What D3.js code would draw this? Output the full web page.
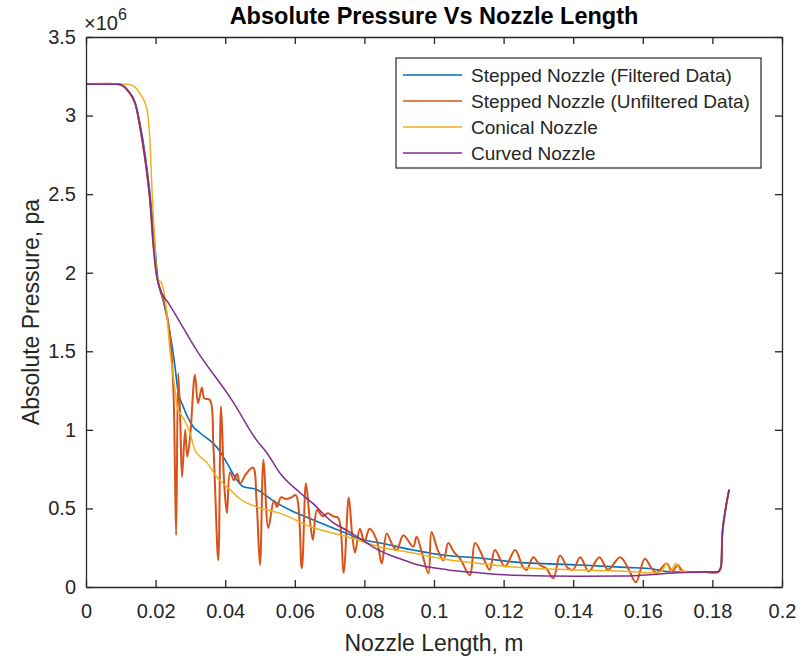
<!DOCTYPE html>
<html>
<head>
<meta charset="utf-8">
<script src="https://cdn.jsdelivr.net/npm/d3@7"></script>
<style>
  html, body { margin: 0; padding: 0; background: #fff; }
  svg { display: block; }
  text { font-family: "Liberation Sans", Arial, Helvetica, sans-serif; fill: #262626; }
</style>
</head>
<body>
<svg id="chart" width="801" height="662"></svg>
<script>
// ---------------- data (pressure in units of 1e6 Pa, length in m) ----------------
const xTicks = [0, 0.02, 0.04, 0.06, 0.08, 0.1, 0.12, 0.14, 0.16, 0.18, 0.2];
const xTickLabels = ["0", "0.02", "0.04", "0.06", "0.08", "0.1", "0.12", "0.14", "0.16", "0.18", "0.2"];
const yTicks = [0, 0.5, 1, 1.5, 2, 2.5, 3, 3.5];
const yTickLabels = ["0", "0.5", "1", "1.5", "2", "2.5", "3", "3.5"];

const seriesNames = ["Stepped Nozzle (Filtered Data)", "Stepped Nozzle (Unfiltered Data)", "Conical Nozzle", "Curved Nozzle"];
const seriesColors = ["#0072BD", "#D95319", "#EDB120", "#7E2F8E"];

const steppedFilteredX = [0, 0.009, 0.0105, 0.012, 0.0141, 0.0155, 0.017, 0.0184, 0.0195, 0.0207, 0.0221, 0.0241, 0.0256, 0.0264, 0.0279, 0.0308, 0.0328, 0.0376, 0.0405, 0.0434, 0.0451, 0.049, 0.0537, 0.0586, 0.065, 0.075, 0.0796, 0.0845, 0.094, 0.1037, 0.113, 0.1227, 0.142, 0.155, 0.163, 0.166, 0.170, 0.175, 0.1816, 0.1825, 0.1828, 0.1836, 0.1848];
const steppedFilteredY = [3.2, 3.2, 3.19, 3.16, 3.08, 2.95, 2.75, 2.5, 2.25, 1.95, 1.83, 1.62, 1.40, 1.25, 1.15, 1.02, 0.98, 0.89, 0.79, 0.68, 0.64, 0.62, 0.55, 0.49, 0.43, 0.34, 0.30, 0.28, 0.235, 0.20, 0.185, 0.16, 0.14, 0.125, 0.115, 0.10, 0.095, 0.095, 0.095, 0.13, 0.32, 0.47, 0.62];

const steppedUnfilteredX = [0, 0.009, 0.0105, 0.012, 0.0141, 0.0155, 0.017, 0.0184, 0.0193, 0.0204, 0.0215, 0.0224, 0.0235, 0.0245, 0.0252, 0.0259, 0.0265, 0.0271, 0.0276, 0.0285, 0.0291, 0.0299, 0.0313, 0.0322, 0.0333, 0.0340, 0.0356, 0.0366, 0.0380, 0.0388, 0.0397, 0.0405, 0.0414, 0.0425, 0.0434, 0.0443, 0.0460, 0.0480, 0.0490, 0.0500, 0.0510, 0.0524, 0.0540, 0.0549, 0.0560, 0.0575, 0.0590, 0.0603, 0.0620, 0.0632, 0.0643, 0.0652, 0.0664, 0.0680, 0.0695, 0.0710, 0.0725, 0.0740, 0.0755, 0.0765, 0.0773, 0.0787, 0.0800, 0.0815, 0.0835, 0.0850, 0.0864, 0.0880, 0.0893, 0.0912, 0.0940, 0.0950, 0.0965, 0.0984, 0.0993, 0.1010, 0.1027, 0.1041, 0.1058, 0.1075, 0.1103, 0.1118, 0.1145, 0.1160, 0.1175, 0.1204, 0.1233, 0.1255, 0.1266, 0.1285, 0.1304, 0.1322, 0.1343, 0.1362, 0.1385, 0.1400, 0.1420, 0.1445, 0.1475, 0.1500, 0.1535, 0.1560, 0.1580, 0.1606, 0.1625, 0.1640, 0.1668, 0.1685, 0.1700, 0.1715, 0.1740, 0.1780, 0.1816, 0.1825, 0.1828, 0.1836, 0.1848];
const steppedUnfilteredY = [3.2, 3.2, 3.19, 3.16, 3.08, 2.93, 2.72, 2.46, 2.19, 1.97, 1.88, 1.82, 1.70, 1.51, 1.20, 0.33, 1.36, 1.05, 0.70, 1.00, 0.83, 0.95, 1.35, 1.17, 1.27, 1.20, 1.19, 0.90, 0.17, 1.15, 0.66, 0.47, 0.73, 0.68, 0.72, 0.66, 0.72, 0.76, 0.55, 0.14, 0.81, 0.375, 0.55, 0.51, 0.57, 0.56, 0.57, 0.585, 0.12, 0.66, 0.43, 0.30, 0.49, 0.45, 0.47, 0.45, 0.44, 0.09, 0.57, 0.33, 0.22, 0.37, 0.29, 0.37, 0.30, 0.15, 0.34, 0.27, 0.235, 0.33, 0.256, 0.32, 0.22, 0.087, 0.35, 0.24, 0.17, 0.28, 0.22, 0.18, 0.075, 0.28, 0.17, 0.11, 0.235, 0.13, 0.235, 0.13, 0.108, 0.19, 0.14, 0.12, 0.055, 0.20, 0.12, 0.11, 0.19, 0.10, 0.19, 0.11, 0.19, 0.11, 0.03, 0.18, 0.12, 0.09, 0.15, 0.10, 0.14, 0.10, 0.095, 0.095, 0.095, 0.13, 0.32, 0.47, 0.62];

const conicalX = [0, 0.010, 0.0118, 0.0135, 0.0155, 0.0175, 0.0184, 0.019, 0.0198, 0.0204, 0.0218, 0.0233, 0.0241, 0.0253, 0.0264, 0.0279, 0.0299, 0.0313, 0.0348, 0.0376, 0.0414, 0.0443, 0.049, 0.0557, 0.065, 0.075, 0.0845, 0.094, 0.1037, 0.113, 0.1227, 0.142, 0.155, 0.163, 0.1655, 0.1668, 0.1680, 0.1695, 0.1710, 0.1727];
const conicalY = [3.2, 3.2, 3.2, 3.19, 3.14, 3.04, 2.83, 2.51, 2.19, 1.97, 1.93, 1.72, 1.51, 1.30, 1.13, 1.08, 0.98, 0.87, 0.79, 0.70, 0.62, 0.56, 0.51, 0.47, 0.38, 0.32, 0.255, 0.216, 0.175, 0.15, 0.127, 0.108, 0.10, 0.09, 0.10, 0.15, 0.10, 0.15, 0.10, 0.10];

const curvedX = [0, 0.0098, 0.012, 0.0141, 0.0155, 0.017, 0.0184, 0.0193, 0.0204, 0.0218, 0.0236, 0.032, 0.0422, 0.049, 0.052, 0.0557, 0.0615, 0.065, 0.071, 0.075, 0.0807, 0.0845, 0.0902, 0.094, 0.1037, 0.113, 0.1227, 0.142, 0.155, 0.163, 0.170, 0.178, 0.1816, 0.1825, 0.1828, 0.1836, 0.1848];
const curvedY = [3.2, 3.2, 3.16, 3.08, 2.93, 2.72, 2.46, 2.19, 1.97, 1.87, 1.81, 1.50, 1.18, 0.935, 0.853, 0.725, 0.60, 0.535, 0.41, 0.36, 0.28, 0.23, 0.18, 0.15, 0.11, 0.09, 0.075, 0.068, 0.07, 0.08, 0.09, 0.095, 0.095, 0.13, 0.32, 0.47, 0.62];

// ---------------- layout ----------------
const W = 801, H = 662;
const plot = { left: 86, right: 782, top: 37, bottom: 587 };
const ink = "#262626";

const svg = d3.select("#chart");
svg.append("rect").attr("width", W).attr("height", H).attr("fill", "#fff");

const x = d3.scaleLinear().domain([0, 0.2]).range([plot.left, plot.right]);
const y = d3.scaleLinear().domain([0, 3.5]).range([plot.bottom, plot.top]);

svg.append("defs").append("clipPath").attr("id", "clip")
  .append("rect").attr("x", plot.left).attr("y", plot.top)
  .attr("width", plot.right - plot.left).attr("height", plot.bottom - plot.top);

// ---------------- lines ----------------
const pairs = (xs, ys) => xs.map((v, i) => [v, ys[i]]);
const series = [
  { data: pairs(steppedFilteredX, steppedFilteredY), curve: d3.curveMonotoneX, w: 1.6 },
  { data: pairs(steppedUnfilteredX, steppedUnfilteredY), curve: d3.curveCatmullRom.alpha(0.5), w: 2.0 },
  { data: pairs(conicalX, conicalY), curve: d3.curveMonotoneX, w: 1.5 },
  { data: pairs(curvedX, curvedY), curve: d3.curveMonotoneX, w: 1.5 }
];
const gLines = svg.append("g").attr("clip-path", "url(#clip)");
series.forEach((s, i) => {
  const line = d3.line().x(d => x(d[0])).y(d => y(d[1])).curve(s.curve);
  gLines.append("path").datum(s.data)
    .attr("d", line)
    .attr("fill", "none")
    .attr("stroke", seriesColors[i])
    .attr("stroke-width", s.w)
    .attr("stroke-linejoin", "round");
});

// ---------------- axes ----------------
const tickFont = 20;
const styleAxis = g => {
  g.selectAll(".domain").attr("stroke", ink).attr("stroke-width", 1.3);
  g.selectAll(".tick line").attr("stroke", ink).attr("stroke-width", 1.3);
  g.selectAll(".tick text").attr("fill", ink).style("font-size", tickFont + "px")
    .style("font-family", '"Liberation Sans", Arial, sans-serif');
};

svg.append("g").attr("transform", `translate(0,${plot.bottom})`)
  .call(d3.axisBottom(x).tickValues(xTicks).tickFormat((d, i) => xTickLabels[i])
    .tickSizeInner(-7).tickSizeOuter(0).tickPadding(17))
  .call(styleAxis);

svg.append("g").attr("transform", `translate(0,${plot.top})`)
  .call(d3.axisTop(x).tickValues(xTicks).tickFormat("").tickSizeInner(-7).tickSizeOuter(0))
  .call(styleAxis);

svg.append("g").attr("transform", `translate(${plot.left},0)`)
  .call(d3.axisLeft(y).tickValues(yTicks).tickFormat((d, i) => yTickLabels[i])
    .tickSizeInner(-7).tickSizeOuter(0).tickPadding(10))
  .call(styleAxis);

svg.append("g").attr("transform", `translate(${plot.right},0)`)
  .call(d3.axisRight(y).tickValues(yTicks).tickFormat("").tickSizeInner(-7).tickSizeOuter(0))
  .call(styleAxis);

// exponent label
const expo = svg.append("text").attr("x", 84).attr("y", 30).style("font-size", "20px");
expo.append("tspan").text("\u00d710");
expo.append("tspan").attr("dy", -10).style("font-size", "16px").text("6");

// ---------------- titles ----------------
svg.append("text").attr("x", (plot.left + plot.right) / 2).attr("y", 24)
  .attr("text-anchor", "middle").style("font-size", "23.5px").style("font-weight", "bold")
  .style("fill", "#000")
  .text("Absolute Pressure Vs Nozzle Length");

svg.append("text").attr("x", (plot.left + plot.right) / 2).attr("y", 651)
  .attr("text-anchor", "middle").style("font-size", "23px")
  .text("Nozzle Length, m");

svg.append("text")
  .attr("transform", `translate(39,${(plot.top + plot.bottom) / 2}) rotate(-90)`)
  .attr("text-anchor", "middle").style("font-size", "23px")
  .text("Absolute Pressure, pa");

// ---------------- legend ----------------
const leg = { x: 396, y: 58, w: 365, h: 110 };
const gLeg = svg.append("g");
gLeg.append("rect").attr("x", leg.x).attr("y", leg.y).attr("width", leg.w).attr("height", leg.h)
  .attr("fill", "#fff").attr("stroke", ink).attr("stroke-width", 1.2);
seriesNames.forEach((name, i) => {
  const cy = 75 + i * 26;
  gLeg.append("line").attr("x1", 403).attr("x2", 462).attr("y1", cy).attr("y2", cy)
    .attr("stroke", seriesColors[i]).attr("stroke-width", 1.6);
  gLeg.append("text").attr("x", 471).attr("y", cy + 7).style("font-size", "19px").text(name);
});
</script>
</body>
</html>
